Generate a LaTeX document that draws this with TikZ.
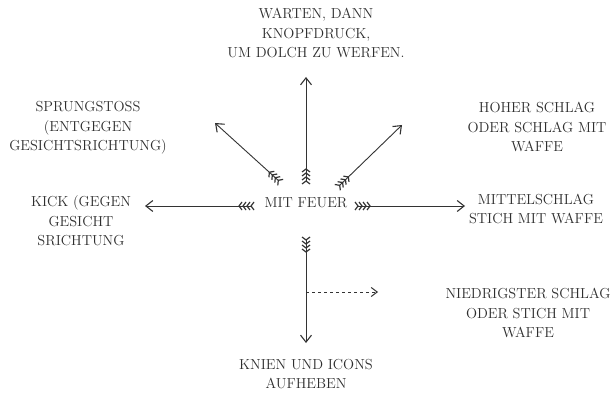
\documentclass[tikz,border=0pt]{standalone}
\usepackage{tikz}
\usetikzlibrary{arrows.meta,decorations.markings}
\definecolor{inkgray}{HTML}{333333}
\definecolor{textgray}{HTML}{2E2E2E}
\tikzstyle{label}=[
	align=center,
	text=textgray,
	inner sep=0pt,
	font=\fontsize{14.5}{19.5}\selectfont
]
\tikzstyle{shaft} = [draw=inkgray,line width=0.9pt,-{Straight Barb[length=7pt,width=11pt,line width=1.1pt]}]
\tikzstyle{fletched} = [shaft,postaction={decorate,decoration={markings,
	mark=between positions 1pt and 15pt step 4pt with {\draw[inkgray,line width=1.2pt,-] (-3pt,4pt) -- (0,0) -- (-3pt,-4pt);}}}]
\tikzstyle{hint} = [draw=inkgray,line width=0.9pt,dashed,-{Straight Barb[length=6pt,width=9pt,line width=1pt]}]

\begin{document}
\begin{tikzpicture}[x=1pt,y=-1pt]
			
				\useasboundingbox[fill=white] (0,0) rectangle (612,395);
				
				\node[label]	(fire)	at (306,203)	{MIT FEUER};
				\node[label]	(wait)	at (316,33)	{WARTEN, DANN\\KNOPFDRUCK,\\UM DOLCH ZU WERFEN.};
				\node[label]	(jump)	at (88,128)	{SPRUNGSTOSS\\(ENTGEGEN\\GESICHTSRICHTUNG)};
				\node[label]	(kick)	at (81,221)	{KICK (GEGEN\\GESICHT\\SRICHTUNG};
				\node[label]	(high)	at (537,127)	{HOHER SCHLAG\\ODER SCHLAG MIT\\WAFFE};
				\node[label]	(mid)	at (536,209)	{MITTELSCHLAG\\STICH MIT WAFFE};
				\node[label]	(low)	at (528,313)	{NIEDRIGSTER SCHLAG\\ODER STICH MIT\\WAFFE};
				\node[label]	(kneel)	at (306,374)	{KNIEN UND ICONS\\AUFHEBEN};
				
				% tails near the centre, tips near the texts
				\coordinate (upT)	at (306,182);
				\coordinate (upH)	at (306,77);
				\coordinate (ulT)	at (279,181);
				\coordinate (ulH)	at (215,123);
				\coordinate (urT)	at (339,186);
				\coordinate (urH)	at (402,125);
				\coordinate (lT)	at (252,206);
				\coordinate (lH)	at (145,206);
				\coordinate (rT)	at (357,206);
				\coordinate (rH)	at (465,206);
				\coordinate (dT)	at (306,239);
				\coordinate (dH)	at (306,343);
				\coordinate (br)	at (306,292);
				\coordinate (brH)	at (378,292);
				
				\draw[fletched] (upT) -- (upH);
				\draw[fletched] (ulT) -- (ulH);
				\draw[fletched] (urT) -- (urH);
				\draw[fletched] (lT) -- (lH);
				\draw[fletched] (rT) -- (rH);
				\draw[fletched] (dT) -- (dH);
				\draw[hint] (br) -- (brH);
			
			\end{tikzpicture}
\end{document}
